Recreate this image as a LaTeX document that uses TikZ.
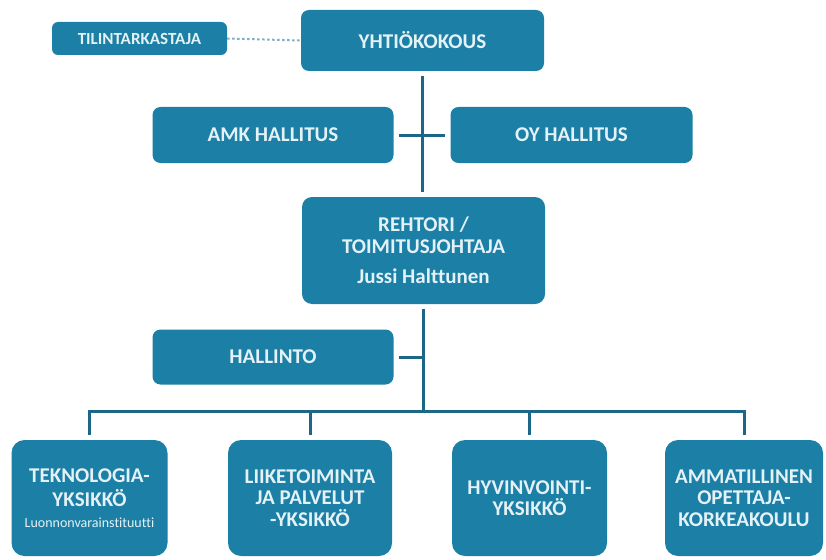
\documentclass[tikz,border=0pt]{standalone}
\usepackage{fontspec}
\setmainfont{Carlito}[Ligatures=NoCommon]
\definecolor{boxfill}{HTML}{1B7FA6}
\definecolor{linecol}{HTML}{1C6787}
\definecolor{boxtext}{HTML}{E4F2F7}
\definecolor{dotcol}{HTML}{7FAFC6}
\tikzset{
  orgbox/.style={draw=none, fill=boxfill, text=boxtext, rounded corners=8pt,
    inner sep=0pt, align=center, font=\bfseries\fontsize{21}{21.5}\selectfont},
  unitbox/.style={orgbox, rounded corners=13pt, minimum width=156pt, minimum height=116pt},
  link/.style={draw=linecol, line width=3pt},
  gap/.style={shorten <=5pt, shorten >=5pt}
}
\begin{document}
\begin{tikzpicture}[x=1pt, y=-1pt]
  \useasboundingbox (0,0) rectangle (826,559);

  % top level
  \node[orgbox, minimum width=243pt, minimum height=61pt] (yht) at (422.5,40.5) {YHTIÖKOKOUS};
  \node[orgbox, rounded corners=6pt, minimum width=175pt, minimum height=33pt,
        font=\bfseries\fontsize{17}{19}\selectfont] (tili) at (139.5,38.5) {TILINTARKASTAJA};

  % boards
  \node[orgbox, minimum width=241pt, minimum height=56pt] (amk) at (273,135) {AMK HALLITUS};
  \node[orgbox, minimum width=242pt, minimum height=56pt] (oy) at (571.5,135) {OY HALLITUS};

  % rector
  \node[orgbox, rounded corners=10pt, minimum width=243pt, minimum height=107pt] (reh) at (423.5,250.5)
    {REHTORI /\\TOIMITUSJOHTAJA\\[9pt]Jussi Halttunen};

  % administration
  \node[orgbox, minimum width=241pt, minimum height=55pt] (hal) at (273,357) {HALLINTO};

  % units
  \node[unitbox] (u1) at (89.5,498)
    {TEKNOLOGIA-\\[3pt]YKSIKKÖ\\[-1pt]{\mdseries\fontsize{14}{15}\selectfont Luonnonvarainstituutti}};
  \node[unitbox, minimum width=164pt] (u2) at (310,498) {LIIKETOIMINTA\\JA PALVELUT\\-YKSIKKÖ};
  \node[unitbox, minimum width=155pt] (u3) at (529.5,498) {HYVINVOINTI-\\YKSIKKÖ};
  \node[unitbox, minimum width=158pt] (u4) at (744,498) {AMMATILLINEN\\OPETTAJA-\\KORKEAKOULU};

  % connectors
  \draw[draw=dotcol, line width=2pt, dash pattern=on 2.5pt off 2.5pt] (tili.east) -- (yht.west);
  \draw[link, gap] (yht.south) -- (yht.south |- reh.north);
  \draw[link, gap] (amk.east) -- (oy.west);

  \coordinate (bus) at (423,411);
  \draw[link, shorten <=5pt] (reh.south -| bus) -- (bus);
  \draw[link, shorten <=5pt] (hal.east) -- (hal.east -| bus);
  \draw[link, line cap=rect] (u1.north |- bus) -- (u4.north |- bus);
  \foreach \u in {u1,u2,u3,u4}
    \draw[link, shorten >=5pt] (\u.north |- bus) -- (\u.north);
\end{tikzpicture}
\end{document}
